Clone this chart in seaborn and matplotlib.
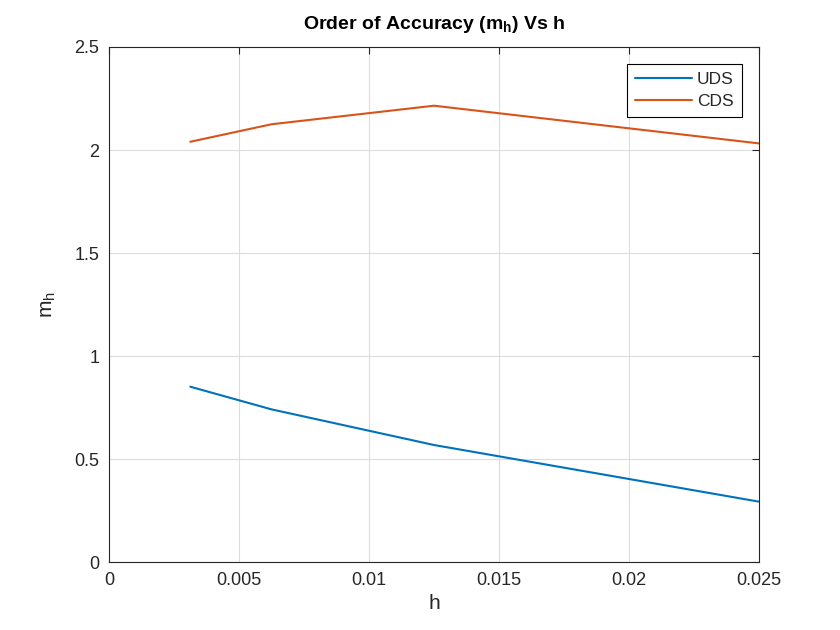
import matplotlib
matplotlib.use('Agg')
import matplotlib.pyplot as plt
import seaborn as sns
import pandas as pd

# grid spacing and the order of accuracy for each scheme
h_values = [0.003125, 0.00625, 0.0125, 0.025]
uds_order = [0.851, 0.741, 0.568, 0.293]
cds_order = [2.040, 2.125, 2.215, 2.032]
scheme_names = ['UDS', 'CDS']

df = pd.DataFrame({
    'h': h_values * 2,
    'm': uds_order + cds_order,
    'scheme': [scheme_names[0]] * len(h_values) + [scheme_names[1]] * len(h_values),
})

sns.set_style('white')
plt.rcParams['font.family'] = ['Liberation Sans', 'DejaVu Sans']

fig = plt.figure(figsize=(8.4, 6.3), dpi=100)
ax = fig.add_axes([0.1298, 0.1079, 0.7738, 0.8175])

sns.lineplot(data=df, x='h', y='m', hue='scheme', hue_order=scheme_names,
             palette=['#0072BD', '#D95319'], linewidth=1.5, ax=ax)

ax.set_xlim(0, 0.025)
ax.set_ylim(0, 2.5)
ax.set_xticks([0, 0.005, 0.01, 0.015, 0.02, 0.025])
ax.set_xticklabels(['0', '0.005', '0.01', '0.015', '0.02', '0.025'])
ax.set_yticks([0, 0.5, 1, 1.5, 2, 2.5])
ax.set_yticklabels(['0', '0.5', '1', '1.5', '2', '2.5'])
ax.grid(True, color='#dcdcdc', linewidth=0.8)
ax.tick_params(direction='in', length=5, labelsize=13, colors='#262626', pad=7,
               top=True, right=True)
for s in ax.spines.values():
    s.set_color('#262626')
    s.set_linewidth(0.8)

ax.set_xlabel('h', fontsize=15, color='#262626')
ax.set_ylabel('m$_\\mathregular{h}$', fontsize=15, color='#262626', labelpad=12)
ax.set_title('Order of Accuracy (m$_\\mathregular{h}$) Vs h', fontsize=14,
             fontweight='bold', color='black', pad=13)

leg = ax.legend(loc='upper right', fancybox=False, edgecolor='black',
                fontsize=12.5, borderaxespad=1.0, handlelength=3.3,
                handletextpad=0.3, borderpad=0.45, labelspacing=0.4, framealpha=1)
leg.get_frame().set_linewidth(0.8)

fig.savefig('out.png', dpi=100)
